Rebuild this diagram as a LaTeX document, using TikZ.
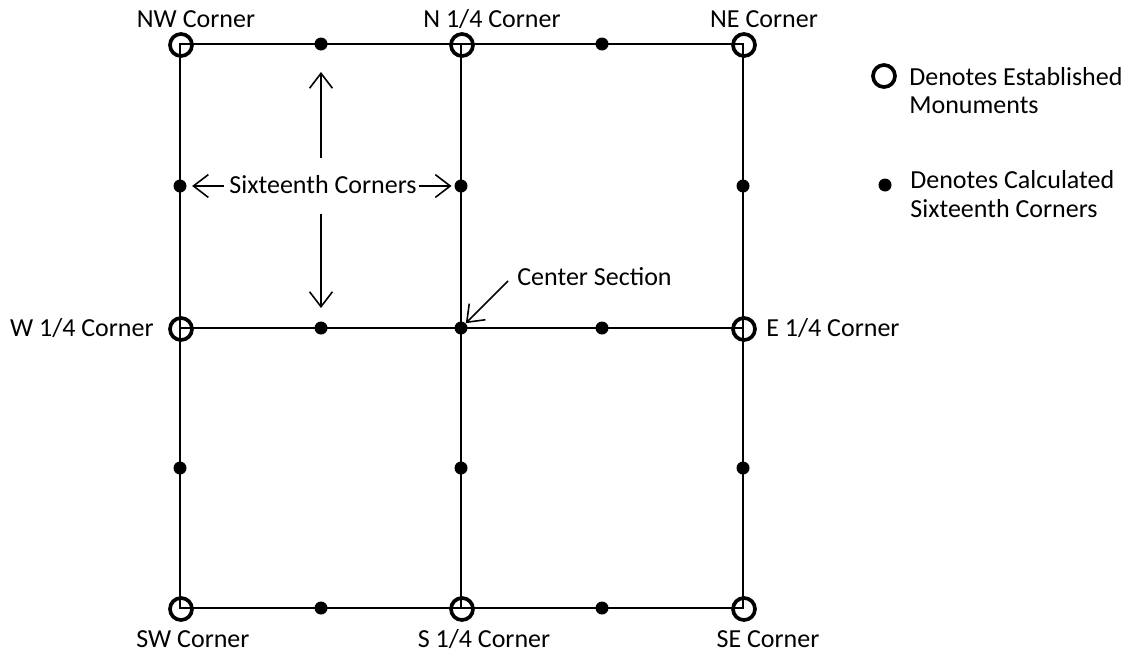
\documentclass[tikz,border=0pt]{standalone}
\usepackage{fontspec}
\setmainfont{Carlito}
\usetikzlibrary{arrows.meta}
\begin{document}
\begin{tikzpicture}[x=0.02cm,y=-0.02cm,
  monument/.style={circle,draw,line width=2.1pt,minimum size=0.44cm,inner sep=0pt},
  calc16/.style={circle,fill,minimum size=0.26cm,inner sep=0pt},
  gridline/.style={line width=1.2pt},
  lbl/.style={font=\fontsize{14.8}{17}\selectfont,inner sep=0pt},
  pointer/.style={line width=0.9pt,-{Straight Barb[length=8.5pt,width=13pt,line width=0.9pt]}}]
\useasboundingbox (0,0) rectangle (1138,656);
% grid coordinates
\coordinate (nw) at (180,44); \coordinate (n) at (461,44); \coordinate (ne) at (743,44);
\coordinate (w) at (180,328); \coordinate (c) at (461,328); \coordinate (e) at (743,328);
\coordinate (sw) at (180,608); \coordinate (s) at (461,608); \coordinate (se) at (743,608);
% grid lines
\draw[gridline] (nw) -- (ne) -- (se) -- (sw) -- cycle;
\draw[gridline] (n) -- (s);
\draw[gridline] (w) -- (e);
% monuments
\foreach \p in {nw,n,ne,w,e,sw,s,se}
  \node[monument] (m\p) at ([shift={(1,1)}]\p) {};
% sixteenth corners
\node[calc16] (d1) at (321,44) {};
\node[calc16] (d2) at (602,44) {};
\node[calc16] (d3) at (180,186) {};
\node[calc16] (d4) at (461,186) {};
\node[calc16] (d5) at (743,186) {};
\node[calc16] (d6) at (321,328) {};
\node[calc16] (dc) at (461,328) {};
\node[calc16] (d7) at (602,328) {};
\node[calc16] (d8) at (180,468) {};
\node[calc16] (d9) at (461,468) {};
\node[calc16] (d10) at (743,468) {};
\node[calc16] (d11) at (321,608) {};
\node[calc16] (d12) at (602,608) {};
% corner labels
\node[lbl,anchor=base] (lnw) at (196,27) {NW Corner};
\node[lbl,anchor=base] (ln) at (492,27) {N 1/4 Corner};
\node[lbl,anchor=base] (lne) at (764,27) {NE Corner};
\node[lbl,anchor=base east] (lw) at (154,336) {W 1/4 Corner};
\node[lbl,anchor=base west] (le) at (766,336) {E 1/4 Corner};
\node[lbl,anchor=base] (lsw) at (193,647) {SW Corner};
\node[lbl,anchor=base] (ls) at (484,647) {S 1/4 Corner};
\node[lbl,anchor=base] (lse) at (768,647) {SE Corner};
% sixteenth corners label and arrows
\node[lbl,anchor=base] (six) at (323,193) {Sixteenth Corners};
\coordinate (upS) at (321,158); \coordinate (upE) at (321,72);
\coordinate (dnS) at (321,214); \coordinate (dnE) at (321,308);
\draw[pointer] (upS) -- (upE);
\draw[pointer] (dnS) -- (dnE);
\draw[pointer] ([xshift=-3pt]six.west |- d3) -- ([xshift=3pt]d3.east);
\draw[pointer] ([xshift=1pt]six.east |- d4) -- ([xshift=-1.5pt]d4.west);
% center section
\node[lbl,anchor=base west] (cs) at (517,285) {Center Section};
\coordinate (csS) at (508,281);
\draw[pointer] (csS) -- ([shift={(11,-10)}]dc);
% legend
\node[monument] (legm) at (884,76) {};
\node[lbl,anchor=base west] (legmt) at (909,85) {Denotes Established};
\node[lbl,anchor=base west] (legmt2) at (909,113) {Monuments};
\node[calc16] (legd) at (885,185) {};
\node[lbl,anchor=base west] (legdt) at (910,188) {Denotes Calculated};
\node[lbl,anchor=base west] (legdt2) at (910,217) {Sixteenth Corners};
\end{tikzpicture}
\end{document}
